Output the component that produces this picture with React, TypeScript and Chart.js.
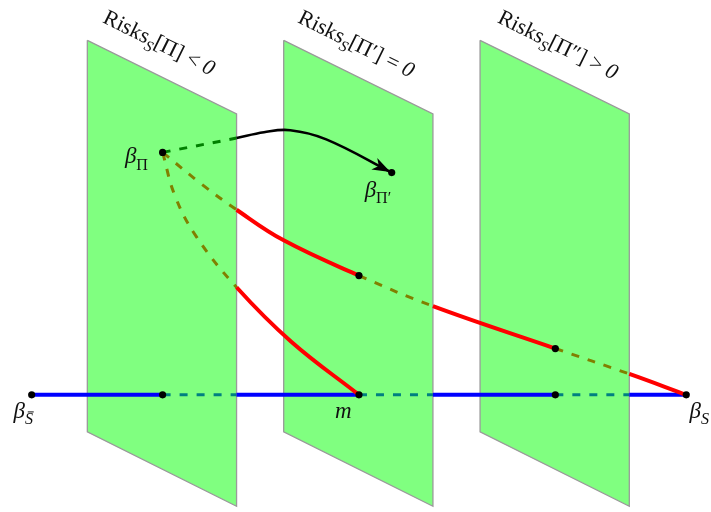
import React, { useEffect, useRef } from "react";
import { Chart, registerables } from "chart.js";

Chart.register(...registerables);

// ---- Diagram data (diagram units) ----
const planeLeftX = [0.85, 3.85, 6.85];
const planeRightX = [3.13, 6.13, 9.13];
const planeTopLeftY = 5.44;
const planeTopRightY = 4.31;
const planeBottomRightY = -1.71;
const planeBottomLeftY = -0.57;

const baselineX = [0, 2, 3.13, 5, 6.13, 8, 9.13, 10];
const baselineY = [0, 0, 0, 0, 0, 0, 0, 0];

const upperCurveX = [2, 2.6, 3.13, 3.85, 5, 6.13, 8, 9.13, 10];
const upperCurveY = [3.72, 3.23, 2.84, 2.37, 1.83, 1.36, 0.71, 0.32, 0];

const lowerCurveX = [2, 2.19, 2.52, 3.13, 3.97, 5];
const lowerCurveY = [3.72, 3.05, 2.42, 1.65, 0.81, 0];

const linkX = [2, 3.13];
const linkY = [3.72, 3.94];

const arrowX = [3.13, 3.55, 3.95, 4.5, 5.5];
const arrowY = [3.94, 4.03, 4.06, 3.92, 3.41];

const markX = [0, 2, 5, 8, 10, 2, 5.5, 5, 8];
const markY = [0, 0, 0, 0, 0, 3.72, 3.41, 1.83, 0.71];

// plane labels
const planeLabelX = [1.07, 4.05, 7.1];
const planeLabelY = [5.72, 5.72, 5.72];
const planeLabelArg = ["Π", "Π′", "Π″"];
const planeLabelRel = ["<", "=", ">"];
const planeLabelRhs = ["0", "0", "0"];

// point labels
const pointLabelMain = ["β", "β", "β", "m", "β"];
const pointLabelSub = ["Π", "Π′", "S", "", "S"];
const pointLabelSubItalic = [false, false, true, false, true];
const pointLabelSubBar = [false, false, true, false, false];
const pointLabelX = [1.6, 5.29, -0.13, 4.76, 10.2];
const pointLabelY = [3.55, 3.04, -0.36, -0.36, -0.36];

// view window (diagram units)
const X_MIN = -0.423;
const X_MAX = 10.317;
const Y_MIN = -1.737;
const Y_MAX = 5.997;

const FONT = "'Liberation Serif', 'DejaVu Serif', serif";

type Run = { t: string; it?: boolean; sub?: boolean; bar?: boolean };

function runFont(r: Run, base: number) {
  const size = r.sub ? base * 0.7 : base;
  return `${r.it ? "italic " : ""}${size}px ${FONT}`;
}

function measureRuns(ctx: CanvasRenderingContext2D, runs: Run[], base: number) {
  let w = 0;
  for (const r of runs) {
    ctx.font = runFont(r, base);
    w += ctx.measureText(r.t).width;
  }
  return w;
}

function drawRuns(
  ctx: CanvasRenderingContext2D,
  runs: Run[],
  x: number,
  y: number,
  base: number,
  align: "left" | "center",
  angle: number
) {
  ctx.save();
  ctx.translate(x, y);
  ctx.rotate(angle);
  const w = measureRuns(ctx, runs, base);
  let cx = align === "center" ? -w / 2 : 0;
  ctx.fillStyle = "#111";
  ctx.textBaseline = "alphabetic";
  ctx.textAlign = "left";
  for (const r of runs) {
    ctx.font = runFont(r, base);
    const rw = ctx.measureText(r.t).width;
    const dy = r.sub ? base * 0.27 : 0;
    ctx.fillText(r.t, cx, dy);
    if (r.bar) {
      const size = r.sub ? base * 0.7 : base;
      const by = dy - size * 0.78;
      ctx.strokeStyle = "#111";
      ctx.lineWidth = 1;
      ctx.beginPath();
      ctx.moveTo(cx + size * 0.18, by);
      ctx.lineTo(cx + rw + size * 0.05, by);
      ctx.stroke();
    }
    cx += rw;
  }
  ctx.restore();
}

function isHidden(mx: number) {
  for (let i = 0; i < planeLeftX.length; i++) {
    const c = (planeLeftX[i] + planeRightX[i]) / 2;
    if (mx > c && mx < planeRightX[i]) return true;
  }
  return false;
}

function pts(xs: number[], ys: number[]) {
  return xs.map((x, i) => ({ x, y: ys[i] }));
}

const labelPlugin = {
  id: "diagramLabels",
  afterDatasetsDraw(chart: any) {
    const ctx: CanvasRenderingContext2D = chart.ctx;
    const xs = chart.scales.x;
    const ys = chart.scales.y;

    // arrow head
    const meta = chart.getDatasetMeta(chart.data.datasets.findIndex((d: any) => d.label === "arrow"));
    const ptsA = meta.data;
    if (ptsA && ptsA.length > 1) {
      const p1 = ptsA[ptsA.length - 1];
      const bx = p1.cp1x !== undefined ? p1.cp1x : ptsA[ptsA.length - 2].x;
      const by = p1.cp1y !== undefined ? p1.cp1y : ptsA[ptsA.length - 2].y;
      let dx = p1.x - bx;
      let dy = p1.y - by;
      const len = Math.hypot(dx, dy) || 1;
      dx /= len;
      dy /= len;
      const nx = -dy;
      const ny = dx;
      const tx = p1.x - dx * 1.5;
      const ty = p1.y - dy * 1.5;
      const L = 18;
      const W = 6.5;
      ctx.save();
      ctx.fillStyle = "#000";
      ctx.beginPath();
      ctx.moveTo(tx, ty);
      ctx.lineTo(tx - L * dx + W * nx, ty - L * dy + W * ny);
      ctx.lineTo(tx - L * 0.72 * dx, ty - L * 0.72 * dy);
      ctx.lineTo(tx - L * dx - W * nx, ty - L * dy - W * ny);
      ctx.closePath();
      ctx.fill();
      ctx.restore();
    }

    // plane labels
    const ang = Math.atan2(
      ys.getPixelForValue(planeTopRightY) - ys.getPixelForValue(planeTopLeftY),
      xs.getPixelForValue(planeRightX[0]) - xs.getPixelForValue(planeLeftX[0])
    );
    for (let i = 0; i < planeLabelX.length; i++) {
      const runs: Run[] = [
        { t: "Risks" },
        { t: "S", it: true, sub: true },
        { t: "[" + planeLabelArg[i] + "]" },
        { t: " " + planeLabelRel[i] + " " },
        { t: planeLabelRhs[i], it: true },
      ];
      drawRuns(ctx, runs, xs.getPixelForValue(planeLabelX[i]), ys.getPixelForValue(planeLabelY[i]), 22, "left", ang);
    }

    // point labels
    for (let i = 0; i < pointLabelMain.length; i++) {
      const runs: Run[] = [{ t: pointLabelMain[i], it: true }];
      if (pointLabelSub[i]) {
        runs.push({ t: pointLabelSub[i], it: pointLabelSubItalic[i], sub: true, bar: pointLabelSubBar[i] });
      }
      drawRuns(ctx, runs, xs.getPixelForValue(pointLabelX[i]), ys.getPixelForValue(pointLabelY[i]), 23, "center", 0);
    }
  },
};

function hiddenSegment(solidColor: string, hiddenColor: string, solidW: number, hiddenW: number) {
  const h = (c: any) => isHidden((c.p0.parsed.x + c.p1.parsed.x) / 2);
  return {
    borderColor: (c: any) => (h(c) ? hiddenColor : solidColor),
    borderDash: (c: any) => (h(c) ? [8, 9] : []),
    borderWidth: (c: any) => (h(c) ? hiddenW : solidW),
  };
}

export default function App() {
  const ref = useRef<HTMLCanvasElement | null>(null);

  useEffect(() => {
    if (!ref.current) return;
    const planes = planeLeftX.map((L, i) => ({
      label: "plane" + i,
      data: [
        { x: L, y: planeTopLeftY },
        { x: planeRightX[i], y: planeTopRightY },
        { x: planeRightX[i], y: planeBottomRightY },
        { x: L, y: planeBottomLeftY },
        { x: L, y: planeTopLeftY },
      ],
      showLine: true,
      fill: "shape",
      backgroundColor: "#80ff80",
      borderColor: "#9a9a9a",
      borderWidth: 1.3,
      pointRadius: 0,
      tension: 0,
      order: 10,
    }));

    const chart = new Chart(ref.current, {
      type: "scatter",
      data: {
        datasets: [
          ...planes,
          {
            label: "baseline",
            data: pts(baselineX, baselineY),
            showLine: true,
            borderColor: "#0000ff",
            borderWidth: 4,
            pointRadius: 0,
            tension: 0,
            segment: hiddenSegment("#0000ff", "#008080", 4, 3),
            order: 6,
          },
          {
            label: "upper",
            data: pts(upperCurveX, upperCurveY),
            showLine: true,
            borderColor: "#ff0000",
            borderWidth: 4,
            pointRadius: 0,
            tension: 0.4,
            segment: hiddenSegment("#ff0000", "#808000", 4, 3),
            order: 5,
          },
          {
            label: "lower",
            data: pts(lowerCurveX, lowerCurveY),
            showLine: true,
            borderColor: "#ff0000",
            borderWidth: 4,
            pointRadius: 0,
            tension: 0.4,
            segment: hiddenSegment("#ff0000", "#808000", 4, 3),
            order: 5,
          },
          {
            label: "link",
            data: pts(linkX, linkY),
            showLine: true,
            borderColor: "#008000",
            borderWidth: 3,
            borderDash: [8, 9],
            pointRadius: 0,
            tension: 0,
            order: 4,
          },
          {
            label: "arrow",
            data: pts(arrowX, arrowY),
            showLine: true,
            borderColor: "#000000",
            borderWidth: 2.6,
            pointRadius: 0,
            tension: 0.4,
            order: 3,
          },
          {
            label: "marks",
            data: pts(markX, markY),
            showLine: false,
            pointRadius: 3.6,
            pointBackgroundColor: "#000",
            pointBorderWidth: 0,
            order: 1,
          },
        ] as any,
      },
      options: {
        animation: false,
        responsive: false,
        events: [],
        layout: { padding: 0 },
        plugins: {
          legend: { display: false },
          tooltip: { enabled: false },
        },
        scales: {
          x: { type: "linear", min: X_MIN, max: X_MAX, display: false },
          y: { type: "linear", min: Y_MIN, max: Y_MAX, display: false },
        },
      } as any,
      plugins: [labelPlugin],
    });

    let alive = true;
    const fonts = (document as any).fonts;
    if (fonts && fonts.load) {
      Promise.all([
        fonts.load("20px 'Liberation Serif'"),
        fonts.load("italic 20px 'Liberation Serif'"),
      ])
        .then(() => {
          if (alive) chart.draw();
        })
        .catch(() => {});
    }
    return () => {
      alive = false;
      chart.destroy();
    };
  }, []);

  return (
    <div style={{ position: "fixed", left: 0, top: 0, width: 711, height: 512, background: "#fff" }}>
      <canvas ref={ref} width={711} height={512} style={{ display: "block", width: 711, height: 512 }} />
    </div>
  );
}
